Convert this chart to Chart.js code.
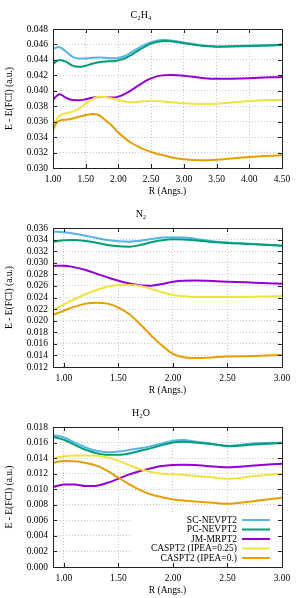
<!DOCTYPE html>
<html>
<head>
<meta charset="utf-8">
<script src="https://cdn.jsdelivr.net/npm/chart.js@4.4.0/dist/chart.umd.min.js"></script>
<style>
  body { margin: 0; background: #fff; }
  canvas { display: block; }
</style>
</head>
<body>
<canvas id="c2h4" width="299" height="199"></canvas>
<canvas id="n2" width="299" height="199"></canvas>
<canvas id="h2o" width="299" height="200"></canvas>
<script>
const seriesNames = ['SC-NEVPT2', 'PC-NEVPT2', 'JM-MRPT2', 'CASPT2 (IPEA=0.25)', 'CASPT2 (IPEA=0.)'];
const seriesColors = ['#56b4e9', '#009e73', '#9400d3', '#f0e442', '#e69f00'];

// C2H4
const c2h4R = [1.0, 1.05, 1.1, 1.2, 1.3, 1.4, 1.5, 1.6, 1.7, 1.8, 1.9, 2.0, 2.1, 2.2, 2.3, 2.4, 2.5, 2.6, 2.7, 2.8, 3.0, 3.25, 3.5, 4.0, 4.5];
const c2h4SC = [0.04537, 0.04560, 0.04565, 0.04506, 0.04440, 0.04418, 0.04418, 0.04428, 0.04432, 0.04428, 0.04420, 0.04425, 0.04450, 0.04500, 0.04550, 0.04595, 0.04628, 0.04650, 0.04660, 0.04650, 0.04625, 0.04590, 0.04575, 0.04585, 0.04598];
const c2h4PC = [0.04342, 0.04380, 0.04400, 0.04377, 0.04325, 0.04310, 0.04325, 0.04350, 0.04370, 0.04380, 0.04382, 0.04394, 0.04420, 0.04466, 0.04520, 0.04570, 0.04610, 0.04635, 0.04645, 0.04640, 0.04615, 0.04585, 0.04571, 0.04580, 0.04592];
const c2h4JM = [0.03881, 0.03930, 0.03954, 0.03910, 0.03880, 0.03876, 0.03890, 0.03910, 0.03920, 0.03918, 0.03912, 0.03924, 0.03960, 0.04010, 0.04065, 0.04120, 0.04160, 0.04190, 0.04202, 0.04204, 0.04195, 0.04170, 0.04155, 0.04162, 0.04180];
const c2h4Ipea25 = [0.03500, 0.03620, 0.03678, 0.03710, 0.03730, 0.03770, 0.03837, 0.03890, 0.03924, 0.03920, 0.03900, 0.03880, 0.03860, 0.03852, 0.03858, 0.03864, 0.03868, 0.03866, 0.03860, 0.03852, 0.03838, 0.03830, 0.03832, 0.03868, 0.03885];
const c2h4Ipea0 = [0.03490, 0.03580, 0.03613, 0.03626, 0.03640, 0.03665, 0.03686, 0.03700, 0.03686, 0.03620, 0.03548, 0.03460, 0.03384, 0.03324, 0.03276, 0.03237, 0.03207, 0.03182, 0.03162, 0.03140, 0.03113, 0.03100, 0.03107, 0.03142, 0.03164];
const c2h4XTicks = [1.0, 1.5, 2.0, 2.5, 3.0, 3.5, 4.0, 4.5];

// N2
const n2R = [0.9, 1.0, 1.1, 1.2, 1.3, 1.4, 1.5, 1.6, 1.7, 1.8, 1.9, 2.0, 2.1, 2.2, 2.3, 2.4, 2.5, 2.75, 3.0];
const n2SC = [0.03537, 0.03525, 0.03500, 0.03468, 0.03427, 0.03393, 0.03370, 0.03364, 0.03380, 0.03410, 0.03435, 0.03442, 0.03438, 0.03416, 0.03390, 0.03364, 0.03350, 0.03324, 0.03298];
const n2PC = [0.03364, 0.03387, 0.03393, 0.03376, 0.03347, 0.03306, 0.03283, 0.03278, 0.03306, 0.03353, 0.03387, 0.03405, 0.03402, 0.03387, 0.03370, 0.03353, 0.03340, 0.03320, 0.03295];
const n2JM = [0.02944, 0.02950, 0.02920, 0.02875, 0.02811, 0.02748, 0.02690, 0.02644, 0.02610, 0.02604, 0.02633, 0.02673, 0.02690, 0.02692, 0.02690, 0.02682, 0.02673, 0.02656, 0.02639];
const n2Ipea25 = [0.02184, 0.02282, 0.02374, 0.02460, 0.02530, 0.02587, 0.02616, 0.02616, 0.02600, 0.02547, 0.02490, 0.02443, 0.02420, 0.02409, 0.02407, 0.02408, 0.02409, 0.02415, 0.02426];
const n2Ipea0 = [0.02098, 0.02173, 0.02242, 0.02294, 0.02311, 0.02294, 0.02224, 0.02110, 0.01937, 0.01745, 0.01570, 0.01425, 0.01367, 0.01355, 0.01358, 0.01373, 0.01380, 0.01390, 0.01407];
const n2XTicks = [1.0, 1.5, 2.0, 2.5, 3.0];

// H2O
const h2oR = [0.9, 1.0, 1.1, 1.2, 1.3, 1.4, 1.5, 1.6, 1.7, 1.8, 1.9, 2.0, 2.1, 2.2, 2.3, 2.4, 2.5, 2.75, 3.0];
const h2oSC = [0.01696, 0.01666, 0.01600, 0.01537, 0.01494, 0.01476, 0.01485, 0.01506, 0.01528, 0.01554, 0.01588, 0.01623, 0.01632, 0.01614, 0.01597, 0.01575, 0.01558, 0.01590, 0.01598];
const h2oPC = [0.01675, 0.01636, 0.01571, 0.01506, 0.01463, 0.01442, 0.01442, 0.01459, 0.01494, 0.01528, 0.01567, 0.01601, 0.01610, 0.01601, 0.01588, 0.01571, 0.01554, 0.01576, 0.01593];
const h2oJM = [0.01027, 0.01062, 0.01062, 0.01040, 0.01045, 0.01083, 0.01135, 0.01191, 0.01235, 0.01270, 0.01298, 0.01312, 0.01316, 0.01310, 0.01300, 0.01290, 0.01282, 0.01305, 0.01328];
const h2oIpea25 = [0.01399, 0.01424, 0.01433, 0.01434, 0.01429, 0.01407, 0.01364, 0.01308, 0.01256, 0.01222, 0.01200, 0.01191, 0.01183, 0.01172, 0.01160, 0.01148, 0.01135, 0.01170, 0.01200];
const h2oIpea0 = [0.01342, 0.01364, 0.01360, 0.01338, 0.01304, 0.01235, 0.01148, 0.01062, 0.00988, 0.00932, 0.00898, 0.00868, 0.00855, 0.00842, 0.00832, 0.00822, 0.00812, 0.00850, 0.00889];
const h2oXTicks = [1.0, 1.5, 2.0, 2.5, 3.0];

Chart.defaults.font.family = "'Liberation Serif', 'Times New Roman', serif";
Chart.defaults.font.size = 9.5;
Chart.defaults.color = '#000';

// frame, inward ticks and (optionally) gnuplot-like key inside the plot
const framePlugin = {
    id: 'frame',
    afterDraw(chart, args, opts) {
        const ctx = chart.ctx;
        const a = chart.chartArea;
        const xs = chart.scales.x, ys = chart.scales.y;
        ctx.save();
        if (opts.legend) {
            ctx.fillStyle = '#fff';
            ctx.fillRect(a.left + 77, a.bottom - 54, a.right - a.left - 77, 54);
            ctx.font = "9.5px 'Liberation Serif', serif";
            ctx.textAlign = 'right';
            ctx.textBaseline = 'middle';
            seriesNames.forEach((name, i) => {
                const y = a.bottom - 47 + i * 9.5;
                ctx.fillStyle = '#000';
                ctx.fillText(name, a.left + 184, y);
                ctx.strokeStyle = seriesColors[i];
                ctx.lineWidth = 2;
                ctx.beginPath();
                ctx.moveTo(a.left + 189, y);
                ctx.lineTo(a.left + 217, y);
                ctx.stroke();
            });
        }
        ctx.strokeStyle = '#222';
        ctx.lineWidth = 1;
        ctx.beginPath();
        xs.ticks.forEach(t => {
            const x = Math.round(xs.getPixelForValue(t.value)) + 0.5;
            ctx.moveTo(x, a.bottom); ctx.lineTo(x, a.bottom - 4);
            ctx.moveTo(x, a.top); ctx.lineTo(x, a.top + 4);
        });
        ys.ticks.forEach(t => {
            const y = Math.round(ys.getPixelForValue(t.value)) + 0.5;
            ctx.moveTo(a.left, y); ctx.lineTo(a.left + 4, y);
            ctx.moveTo(a.right, y); ctx.lineTo(a.right - 4, y);
        });
        ctx.stroke();
        ctx.strokeRect(Math.round(a.left) + 0.5, Math.round(a.top) + 0.5,
            Math.round(a.right - a.left), Math.round(a.bottom - a.top));
        ctx.restore();
    }
};

function makePanel(id, title, r, series, xMin, xMax, xTicks, yMin, yMax, yStep, showLegend) {
    const datasets = series.map((vals, i) => ({
        label: seriesNames[i],
        data: r.map((x, j) => ({ x: x, y: vals[j] })),
        borderColor: seriesColors[i],
        borderWidth: 2,
        pointRadius: 0,
        cubicInterpolationMode: 'monotone',
        order: 5 - i
    }));
    new Chart(document.getElementById(id), {
        type: 'line',
        data: { datasets: datasets },
        plugins: [framePlugin],
        options: {
            responsive: false,
            animation: false,
            layout: { padding: { left: 0, right: 17, top: 0, bottom: 0 } },
            plugins: {
                legend: { display: false },
                tooltip: { enabled: false },
                title: {
                    display: true,
                    text: title,
                    color: '#000',
                    font: { size: 10, weight: 'normal' },
                    padding: { top: 9, bottom: 8 }
                },
                frame: { legend: showLegend }
            },
            scales: {
                x: {
                    type: 'linear',
                    min: xMin,
                    max: xMax,
                    afterBuildTicks: s => { s.ticks = xTicks.map(v => ({ value: v })); },
                    afterFit: s => { s.height = 31; },
                    ticks: {
                        padding: 6,
                        maxRotation: 0,
                        autoSkip: false,
                        callback: v => v.toFixed(2)
                    },
                    grid: { color: '#c8c8c8', drawTicks: false },
                    border: { color: '#222', dash: [1, 2] },
                    title: { display: true, text: 'R (Angs.)', padding: { top: 0, bottom: 1.5 } }
                },
                y: {
                    min: yMin,
                    max: yMax,
                    afterFit: s => { s.width = 53; },
                    ticks: {
                        stepSize: yStep,
                        padding: 5,
                        autoSkip: false,
                        callback: v => v.toFixed(3)
                    },
                    grid: { color: '#c8c8c8', drawTicks: false },
                    border: { color: '#222', dash: [1, 2] },
                    title: { display: true, text: 'E - E(FCI) (a.u.)', padding: { top: 4, bottom: 0 } }
                }
            }
        }
    });
}

makePanel('c2h4', 'C\u2082H\u2084', c2h4R, [c2h4SC, c2h4PC, c2h4JM, c2h4Ipea25, c2h4Ipea0], 1.0, 4.5, c2h4XTicks, 0.030, 0.048, 0.002, false);
makePanel('n2', 'N\u2082', n2R, [n2SC, n2PC, n2JM, n2Ipea25, n2Ipea0], 0.9, 3.0, n2XTicks, 0.012, 0.036, 0.002, false);
makePanel('h2o', 'H\u2082O', h2oR, [h2oSC, h2oPC, h2oJM, h2oIpea25, h2oIpea0], 0.9, 3.0, h2oXTicks, 0.000, 0.018, 0.002, true);
</script>
</body>
</html>
